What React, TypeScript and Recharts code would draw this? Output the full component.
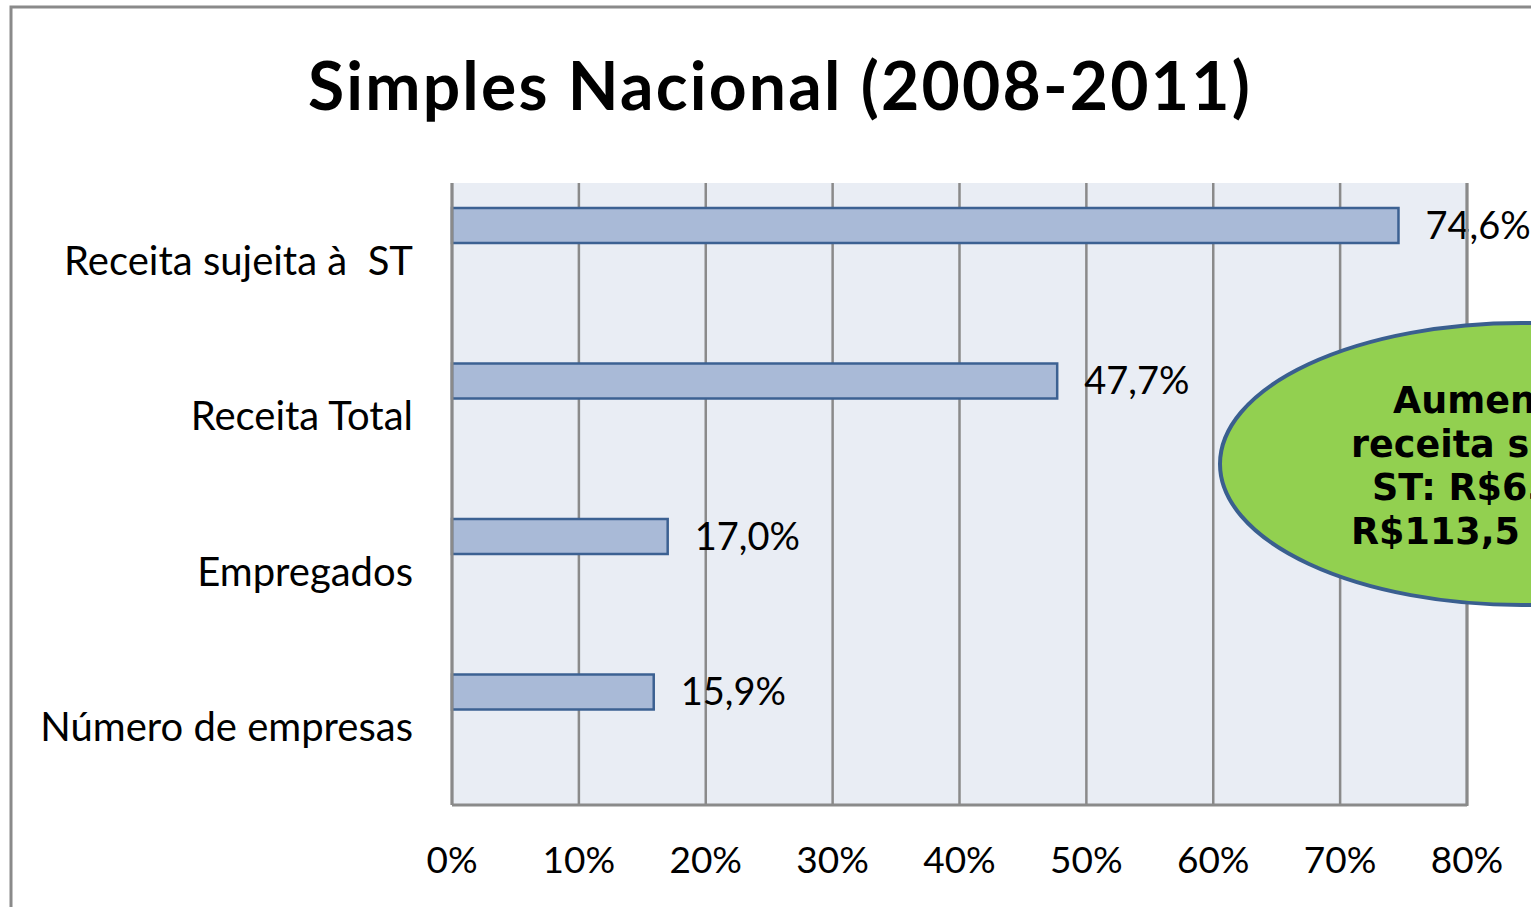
import { BarChart, Bar, XAxis, YAxis, CartesianGrid, LabelList } from "recharts";

const categories = ["Receita sujeita à\u00a0\u00a0ST", "Receita Total", "Empregados", "Número de empresas"];
const growth = [0.746, 0.477, 0.17, 0.159];
const spare = [null, null, null, null];
const xTicks = [0, 0.1, 0.2, 0.3, 0.4, 0.5, 0.6, 0.7, 0.8];
const calloutLines = ["Aumento da", "receita sujeita à", "ST: R$65,0 bi para", "R$113,5 bilhões"];

const data = categories.map((name, i) => ({ name, growth: growth[i], spare: spare[i] }));

const font = "Lato, 'Open Sans', sans-serif";
const pct = (v: number) => `${Math.round(v * 100)}%`;
const pct1 = (v: any) => `${(Number(v) * 100).toFixed(1).replace(".", ",")}%`;

const calloutX = [1393, 1351, 1372, 1351];

export default function App() {
  return (
    <div style={{ position: "absolute", left: 0, top: 0, width: 1531, height: 907, overflow: "hidden", background: "#fff" }}>
      <BarChart
        width={1531}
        height={907}
        data={data}
        layout="vertical"
        margin={{ top: 183, right: 64, bottom: 0, left: 0 }}
        barCategoryGap={25}
        barGap={35}
      >
        <CartesianGrid horizontal={false} stroke="#8a8a8a" strokeWidth={2.5} fill="#e9edf4" strokeOpacity={1} />
        <XAxis
          type="number"
          domain={[0, 0.8]}
          ticks={xTicks}
          tickFormatter={pct}
          height={102}
          tickLine={false}
          axisLine={{ stroke: "#8a8a8a", strokeWidth: 3 }}
          tickMargin={36}
          tick={{ fill: "#000", fontSize: 37, fontFamily: font }}
          interval={0}
        />
        <YAxis
          type="category"
          dataKey="name"
          width={452}
          tickLine={false}
          axisLine={{ stroke: "#8a8a8a", strokeWidth: 3 }}
          tickMargin={33}
          tick={{ fill: "#000", fontSize: 40, fontFamily: font }}
          interval={0}
        />
        <Bar dataKey="growth" fill="#a9bad7" stroke="#3c6192" strokeWidth={2.5} isAnimationActive={false}>
          <LabelList dataKey="growth" position="right" offset={27} formatter={pct1} fill="#000" fontSize={38} fontFamily={font} />
        </Bar>
        <Bar dataKey="spare" fill="none" stroke="none" isAnimationActive={false} />
      </BarChart>
      <svg width={1531} height={907} style={{ position: "absolute", left: 0, top: 0, pointerEvents: "none" }}>
        <rect x={11} y={7} width={1600} height={1000} fill="none" stroke="#8a8a8a" strokeWidth={3} />
        <line x1={1467} y1={183} x2={1467} y2={806} stroke="#8a8a8a" strokeWidth={3} />
        <text x={780} y={110} textAnchor="middle" fontFamily={font} fontWeight={700} fontSize={66} letterSpacing={2.2} fill="#000">
          Simples Nacional (2008-2011)
        </text>
        <ellipse cx={1522} cy={464} rx={302} ry={141} fill="#92d050" stroke="#3a5f8f" strokeWidth={4} />
        {calloutLines.map((t, i) => (
          <text key={t} x={calloutX[i]} y={413 + i * 43.5} fontFamily="'DejaVu Sans', Verdana, sans-serif" fontWeight={700} fontSize={36.5} fill="#000">
            {t}
          </text>
        ))}
      </svg>
    </div>
  );
}
